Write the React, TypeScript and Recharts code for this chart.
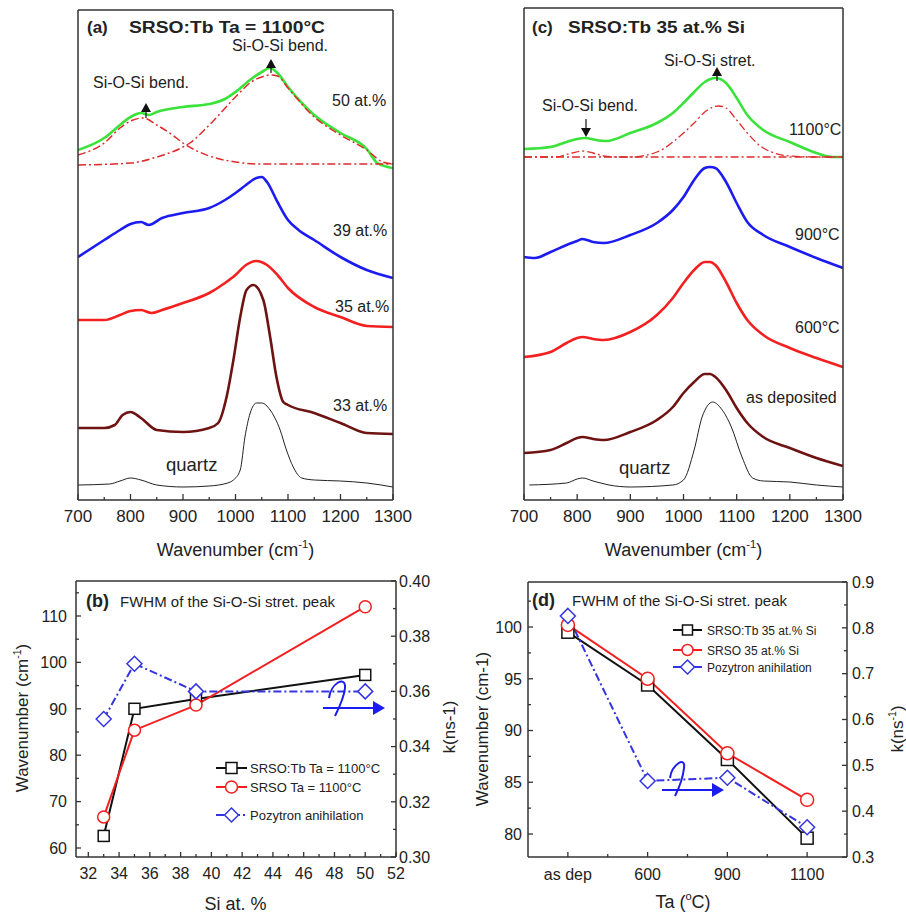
import React from 'react';
import { LineChart, Line, XAxis, YAxis } from 'recharts';

const FONT = '"Liberation Sans", Arial, Helvetica, sans-serif';
const AXIS = '#333';

// ---------- Panel (a): FTIR spectra, SRSO:Tb Ta = 1100°C (absorbance, a.u., offset) ----------
const A_QUARTZ = [[700,0.15],[760,0.16],[780,0.19],[800,0.22],[820,0.20],[850,0.15],[900,0.13],[950,0.14],[985,0.17],[996,0.20],[1009,0.30],[1018,0.63],[1028,0.87],[1040,0.97],[1050,0.97],[1066,0.90],[1085,0.70],[1097,0.50],[1110,0.33],[1126,0.22],[1150,0.20],[1200,0.19],[1250,0.17],[1300,0.13]];
const A_33 = [[700,0.72],[750,0.72],[770,0.75],[785,0.85],[800,0.88],[820,0.82],[850,0.70],[900,0.68],[950,0.72],[967,0.77],[983,1.03],[996,1.40],[1009,1.83],[1021,2.10],[1034,2.15],[1053,2.00],[1066,1.63],[1078,1.23],[1091,0.98],[1100,0.95],[1150,0.87],[1200,0.77],[1250,0.67],[1300,0.66]];
const A_35 = [[700,1.80],[750,1.80],[780,1.85],[800,1.89],[820,1.90],[840,1.87],[860,1.90],[900,1.97],[950,2.07],[980,2.17],[1000,2.25],[1020,2.35],[1040,2.39],[1060,2.35],[1080,2.25],[1100,2.12],[1150,1.93],[1200,1.83],[1250,1.74],[1300,1.73]];
const A_39 = [[700,2.43],[750,2.60],[780,2.70],[800,2.76],[820,2.78],[835,2.75],[860,2.82],[900,2.87],[950,2.92],[980,3.00],[1000,3.07],[1020,3.15],[1040,3.22],[1050,3.23],[1060,3.18],[1080,2.98],[1100,2.80],[1120,2.70],[1150,2.60],[1200,2.43],[1250,2.30],[1300,2.22]];
const A_50 = [[700,3.50],[750,3.62],[780,3.75],[800,3.83],[820,3.87],[835,3.85],[850,3.88],[900,3.93],[950,3.96],[980,4.01],[1000,4.08],[1030,4.21],[1050,4.28],[1065,4.32],[1080,4.27],[1100,4.13],[1130,3.95],[1150,3.85],[1200,3.67],[1250,3.51],[1270,3.37],[1290,3.33],[1300,3.32]];
const A_FIT_BEND = [[700,3.45],[750,3.57],[780,3.72],[800,3.79],[824,3.82],[850,3.75],[880,3.65],[900,3.57],[950,3.44],[1000,3.38],[1050,3.36],[1100,3.36],[1200,3.36],[1300,3.36]];
const A_FIT_STRET = [[700,3.35],[800,3.37],[850,3.43],[900,3.53],[913,3.57],[950,3.75],[1000,4.03],[1030,4.18],[1050,4.23],[1065,4.25],[1080,4.24],[1100,4.12],[1150,3.83],[1200,3.65],[1250,3.50],[1280,3.38],[1300,3.36]];

// ---------- Panel (c): FTIR spectra, SRSO:Tb 35 at.% Si ----------
const C_QUARTZ = [[710,0.15],[780,0.17],[800,0.21],[810,0.22],[830,0.19],[860,0.15],[900,0.13],[980,0.15],[1000,0.20],[1020,0.50],[1035,0.83],[1055,0.98],[1070,0.92],[1090,0.73],[1110,0.43],[1130,0.22],[1150,0.19],[1200,0.18],[1250,0.15],[1300,0.13]];
const C_ASDEP = [[700,0.47],[750,0.50],[780,0.57],[800,0.62],[810,0.63],[830,0.61],[850,0.60],[900,0.68],[950,0.80],[980,0.93],[1000,1.07],[1020,1.18],[1040,1.26],[1050,1.26],[1060,1.23],[1080,1.10],[1100,0.92],[1120,0.77],[1150,0.63],[1200,0.52],[1250,0.42],[1300,0.34]];
const C_600 = [[700,1.43],[750,1.48],[780,1.57],[800,1.62],[810,1.63],[830,1.61],[850,1.60],[900,1.68],[950,1.85],[980,2.02],[1000,2.17],[1020,2.30],[1040,2.38],[1050,2.38],[1060,2.35],[1080,2.18],[1100,1.97],[1120,1.80],[1150,1.65],[1200,1.52],[1250,1.42],[1300,1.33]];
const C_900 = [[700,2.43],[720,2.42],[750,2.48],[780,2.55],[800,2.59],[810,2.61],[830,2.58],[850,2.57],[900,2.65],[950,2.77],[980,2.90],[1000,3.03],[1020,3.20],[1040,3.32],[1050,3.33],[1060,3.32],[1080,3.18],[1100,2.97],[1120,2.78],[1150,2.65],[1200,2.53],[1250,2.42],[1300,2.32]];
const C_1100 = [[700,3.51],[750,3.53],[780,3.58],[800,3.61],[815,3.62],[835,3.60],[855,3.59],[900,3.67],[950,3.77],[980,3.87],[1000,3.97],[1020,4.08],[1040,4.18],[1060,4.22],[1080,4.17],[1100,4.02],[1120,3.85],[1150,3.70],[1200,3.58],[1250,3.47],[1280,3.43],[1300,3.43]];
const C_FIT_BEND = [[700,3.43],[760,3.43],[790,3.47],[810,3.49],[830,3.47],[850,3.44],[880,3.43],[1300,3.43]];
const C_FIT_STRET = [[700,3.43],[900,3.43],[950,3.48],[1000,3.67],[1020,3.77],[1040,3.88],[1065,3.94],[1080,3.92],[1100,3.80],[1120,3.67],[1150,3.52],[1200,3.44],[1250,3.43],[1300,3.43]];

const WN_TICKS = [700,750,800,850,900,950,1000,1050,1100,1150,1200,1250,1300];
const WN_MAJOR = [700,800,900,1000,1100,1200,1300];

// ---------- Panel (b): FWHM vs Si at.% ----------
const B_SI = [33, 35, 39, 50];
const B_SRSO_TB = [62.6, 90.0, 92.1, 97.3];
const B_SRSO = [66.7, 85.4, 90.8, 112.0];
const B_POS = [0.350, 0.370, 0.360, 0.360];
const B_X_TICKS = [32,33,34,35,36,37,38,39,40,41,42,43,44,45,46,47,48,49,50,51,52];
const B_X_MAJOR = [32,34,36,38,40,42,44,46,48,50,52];
const B_L_TICKS = [60,65,70,75,80,85,90,95,100,105,110,115];
const B_L_MAJOR = [60,70,80,90,100,110];
const B_R_TICKS = [0.30,0.31,0.32,0.33,0.34,0.35,0.36,0.37,0.38,0.39,0.40];
const B_R_MAJOR = [0.30,0.32,0.34,0.36,0.38,0.40];

// ---------- Panel (d): FWHM vs Ta ----------
const D_TA = ['as dep', '600', '900', '1100'];
const D_SRSO_TB = [99.5, 94.4, 87.2, 79.6];
const D_SRSO = [100.2, 95.0, 87.8, 83.3];
const D_POS = [0.826, 0.466, 0.473, 0.365];
const D_X_TICKS = [0, 0.5, 1, 1.5, 2, 2.5, 3];
const D_X_MAJOR = [0, 1, 2, 3];
const D_L_TICKS = [80, 82.5, 85, 87.5, 90, 92.5, 95, 97.5, 100, 102.5];
const D_L_MAJOR = [80, 85, 90, 95, 100];
const D_R_TICKS = [0.3,0.35,0.4,0.45,0.5,0.55,0.6,0.65,0.7,0.75,0.8,0.85,0.9];
const D_R_MAJOR = [0.3,0.4,0.5,0.6,0.7,0.8,0.9];

const pts = (arr: number[][]) => arr.map(([x, y]) => ({ x, y }));

const bData = B_SI.map((s, i) => ({ x: s, tb: B_SRSO_TB[i], srso: B_SRSO[i], pos: B_POS[i] }));
const dData = D_TA.map((t, i) => ({ x: i, label: t, tb: D_SRSO_TB[i], srso: D_SRSO[i], pos: D_POS[i] }));

const isIn = (list: number[], v: number) => list.some((m) => Math.abs(m - v) < 1e-6);

function mkTick(orient: 'bottom' | 'left' | 'right', majors: number[], fmt: (v: number) => string, fs: number, off: number, majLen = 6, minLen = 3) {
  return (p: any) => {
    const v = p.payload.value;
    const maj = isIn(majors, v);
    const len = maj ? majLen : minLen;
    const x = p.x, y = p.y;
    if (orient === 'bottom') {
      return (
        <g>
          <line x1={x} y1={y} x2={x} y2={y - len} stroke={AXIS} strokeWidth={1.3} />
          {maj && <text x={x} y={y + off} textAnchor="middle" fontSize={fs} fontFamily={FONT} fill="#222">{fmt(v)}</text>}
        </g>
      );
    }
    if (orient === 'left') {
      return (
        <g>
          <line x1={x} y1={y} x2={x + len} y2={y} stroke={AXIS} strokeWidth={1.3} />
          {maj && <text x={x - off} y={y} dy="0.36em" textAnchor="end" fontSize={fs} fontFamily={FONT} fill="#222">{fmt(v)}</text>}
        </g>
      );
    }
    return (
      <g>
        <line x1={x} y1={y} x2={x - len} y2={y} stroke={AXIS} strokeWidth={1.3} />
        {maj && <text x={x + off} y={y} dy="0.36em" textAnchor="start" fontSize={fs} fontFamily={FONT} fill="#222">{fmt(v)}</text>}
      </g>
    );
  };
}

const squareDot = (color: string, size: number) => (p: any) => (
  <rect key={`s${p.index}`} x={p.cx - size / 2} y={p.cy - size / 2} width={size} height={size} fill="#fff" stroke={color} strokeWidth={1.5} />
);
const diamondDot = (color: string, r: number) => (p: any) => (
  <polygon key={`d${p.index}`} points={`${p.cx},${p.cy - r} ${p.cx + r},${p.cy} ${p.cx},${p.cy + r} ${p.cx - r},${p.cy}`} fill="#fff" stroke={color} strokeWidth={1.5} />
);

const GREEN = '#3ae23a';
const BLUE = '#1c1cf0';
const RED = '#f22020';
const DARKRED = '#6e1212';
const FIT = '#e02a2a';
const MBLUE = '#3434e0';

type Spec = { data: number[][]; color: string; width: number; dash?: string };

function SpectraChart({ left, width, margin, top, lw, rw, yMax, series }: { left: number; width: number; margin: any; top: number; lw: number; rw: number; yMax: number; series: Spec[] }) {
  const axisLine = { stroke: AXIS, strokeWidth: 1.5 };
  return (
    <div style={{ position: 'absolute', left, top: 0 }}>
      <LineChart width={width} height={560} margin={margin}>
        <XAxis xAxisId="b" type="number" dataKey="x" domain={[700, 1300]} allowDataOverflow ticks={WN_TICKS} interval={0}
          height={30} tickSize={0} tickMargin={0} tickLine={false} axisLine={axisLine}
          tick={mkTick('bottom', WN_MAJOR, (v) => String(v), 17, 22, 6, 3)} />
        <XAxis xAxisId="t" orientation="top" type="number" domain={[700, 1300]} height={top} tick={false} tickLine={false} axisLine={axisLine} />
        <YAxis yAxisId="l" type="number" domain={[0, yMax]} allowDataOverflow width={lw} tick={false} tickLine={false} axisLine={axisLine} />
        <YAxis yAxisId="r" orientation="right" type="number" domain={[0, yMax]} width={rw} tick={false} tickLine={false} axisLine={axisLine} />
        {series.map((s, i) => (
          <Line key={i} xAxisId="b" yAxisId="l" data={pts(s.data)} dataKey="y" type="monotone" stroke={s.color}
            strokeWidth={s.width} strokeDasharray={s.dash} dot={false} activeDot={false} isAnimationActive={false} />
        ))}
      </LineChart>
    </div>
  );
}

function SupText({ x, y, fs, base, sup, tail, anchor = 'middle', rotate = false, weight = 'normal' }: any) {
  const transform = rotate ? `translate(${x},${y}) rotate(-90)` : undefined;
  return (
    <text x={rotate ? 0 : x} y={rotate ? 0 : y} transform={transform} textAnchor={anchor} fontSize={fs} fontFamily={FONT} fill="#222" fontWeight={weight}>
      {base}
      <tspan dy={-fs * 0.42} fontSize={fs * 0.62}>{sup}</tspan>
      <tspan dy={fs * 0.42}>{tail}</tspan>
    </text>
  );
}

function UpArrow({ cx, tip, stem }: { cx: number; tip: number; stem: number }) {
  return (
    <g>
      <line x1={cx} y1={tip + 8} x2={cx} y2={tip + 8 + stem} stroke="#111" strokeWidth={1.2} />
      <polygon points={`${cx},${tip} ${cx - 5},${tip + 9} ${cx + 5},${tip + 9}`} fill="#111" />
    </g>
  );
}

function Overlay() {
  const T = (x: number, y: number, s: string, fs = 16, extra: any = {}) => (
    <text x={x} y={y} fontSize={fs} fontFamily={FONT} fill="#222" {...extra}>{s}</text>
  );
  return (
    <svg width={906} height={917} style={{ position: 'absolute', left: 0, top: 0, pointerEvents: 'none' }}>
      {/* Panel (a) */}
      {T(87, 33, '(a)', 17, { fontWeight: 'bold' })}
      {T(129, 33, 'SRSO:Tb Ta = 1100°C', 16, { fontWeight: 'bold', textLength: 196, lengthAdjust: 'spacingAndGlyphs' })}
      {T(232, 51, 'Si-O-Si bend.')}
      {T(93, 88, 'Si-O-Si bend.')}
      <UpArrow cx={146} tip={103} stem={7} />
      <UpArrow cx={271} tip={59} stem={6} />
      {T(332, 106, '50 at.%')}
      {T(333, 236, '39 at.%')}
      {T(335, 312, '35 at.%')}
      {T(333, 411, '33 at.%')}
      {T(166, 471, 'quartz', 18.5)}
      <SupText x={235.5} y={556} fs={18} base="Wavenumber (cm" sup="-1" tail=")" />

      {/* Panel (c) */}
      {T(532, 33, '(c)', 17, { fontWeight: 'bold' })}
      {T(568, 33, 'SRSO:Tb 35 at.% Si', 16, { fontWeight: 'bold', textLength: 177, lengthAdjust: 'spacingAndGlyphs' })}
      {T(664, 66, 'Si-O-Si stret.')}
      <UpArrow cx={717} tip={67} stem={6} />
      {T(542, 111, 'Si-O-Si bend.')}
      <line x1={586} y1={119} x2={586} y2={129} stroke="#111" strokeWidth={1.2} />
      <polygon points="581,128 591,128 586,137" fill="#111" />
      {T(789, 135, '1100°C')}
      {T(795, 240, '900°C')}
      {T(795, 333, '600°C')}
      {T(746, 403, 'as deposited')}
      {T(619, 474, 'quartz', 18.5)}
      <SupText x={683.5} y={556} fs={18} base="Wavenumber (cm" sup="-1" tail=")" />

      {/* Panel (b) */}
      {T(86, 607, '(b)', 18, { fontWeight: 'bold' })}
      {T(120, 607, 'FWHM of the Si-O-Si stret. peak', 15)}
      <SupText x={28} y={718} fs={17} base="Wavenumber (cm" sup="-1" tail=")" rotate />
      <text transform="translate(455,727) rotate(-90)" textAnchor="middle" fontSize={17} fontFamily={FONT} fill="#222">k(ns-1)</text>
      {T(235.5, 910, 'Si at. %', 18, { textAnchor: 'middle' })}
      {/* legend (b) */}
      <line x1={216} y1={768} x2={247} y2={768} stroke="#111" strokeWidth={2} />
      <rect x={226} y={762.5} width={11} height={11} fill="#fff" stroke="#111" strokeWidth={1.5} />
      {T(250, 772.5, 'SRSO:Tb Ta = 1100°C', 13)}
      <line x1={216} y1={787} x2={247} y2={787} stroke={RED} strokeWidth={2} />
      <circle cx={231.5} cy={787} r={6} fill="#fff" stroke={RED} strokeWidth={1.5} />
      {T(250, 791.5, 'SRSO Ta = 1100°C', 13)}
      <line x1={216} y1={815} x2={247} y2={815} stroke={MBLUE} strokeWidth={2} strokeDasharray="8 3 2 3" />
      <polygon points="231.5,808 238.5,815 231.5,822 224.5,815" fill="#fff" stroke={MBLUE} strokeWidth={1.5} />
      {T(250, 820, 'Pozytron anihilation', 13)}
      {/* axis-pointer (b) */}
      <path d="M 329 698 C 331 683, 346 675, 345 688 C 344 698, 339 708, 335 716" fill="none" stroke={BLUE} strokeWidth={2} />
      <line x1={323} y1={708} x2={374} y2={708} stroke={BLUE} strokeWidth={2.2} />
      <polygon points="373,701 385,708 373,715" fill={BLUE} />

      {/* Panel (d) */}
      {T(532, 606, '(d)', 18, { fontWeight: 'bold' })}
      {T(572, 606, 'FWHM of the Si-O-Si stret. peak', 15)}
      <text transform="translate(488,729) rotate(-90)" textAnchor="middle" fontSize={17} fontFamily={FONT} fill="#222">Wavenumber (cm-1)</text>
      <SupText x={903} y={729} fs={17} base="k(ns" sup="-1" tail=")" rotate />
      <SupText x={683} y={908} fs={18} base="Ta (" sup="o" tail="C)" />
      {/* legend (d) */}
      <line x1={673} y1={630} x2={702} y2={630} stroke="#111" strokeWidth={2} />
      <rect x={682.5} y={625} width={10} height={10} fill="#fff" stroke="#111" strokeWidth={1.5} />
      {T(707, 634.5, 'SRSO:Tb 35 at.% Si', 12)}
      <line x1={673} y1={650} x2={702} y2={650} stroke={RED} strokeWidth={2} />
      <circle cx={687.5} cy={650} r={5.5} fill="#fff" stroke={RED} strokeWidth={1.5} />
      {T(707, 654.5, 'SRSO 35 at.% Si', 12)}
      <line x1={673} y1={667} x2={702} y2={667} stroke={MBLUE} strokeWidth={2} />
      <polygon points="687.5,660 694.5,667 687.5,674 680.5,667" fill="#fff" stroke={MBLUE} strokeWidth={1.5} />
      {T(707, 671.5, 'Pozytron anihilation', 12)}
      {/* axis-pointer (d) */}
      <path d="M 670 778 C 672 764, 686 756, 684 768 C 683 778, 679 788, 675 796" fill="none" stroke={BLUE} strokeWidth={2} />
      <line x1={662} y1={790} x2={713} y2={790} stroke={BLUE} strokeWidth={2.2} />
      <polygon points="712,783 724,790 712,797" fill={BLUE} />
    </svg>
  );
}

export default function App() {
  const axisLine = { stroke: AXIS, strokeWidth: 1.5 };
  const dashDot = '8 3 2 3';
  return (
    <div style={{ position: 'absolute', left: 0, top: 0, width: 906, height: 917, background: '#fff', overflow: 'hidden' }}>
      <SpectraChart left={0} width={460} yMax={4.9} top={10} lw={10} rw={10} margin={{ top: 0, left: 68, right: 57, bottom: 30 }}
        series={[
          { data: A_QUARTZ, color: '#222', width: 1 },
          { data: A_33, color: DARKRED, width: 2.6 },
          { data: A_35, color: RED, width: 2.6 },
          { data: A_39, color: BLUE, width: 2.6 },
          { data: A_50, color: GREEN, width: 2.6 },
          { data: A_FIT_BEND, color: FIT, width: 1.5, dash: dashDot },
          { data: A_FIT_STRET, color: FIT, width: 1.5, dash: dashDot },
        ]} />
      <SpectraChart left={460} width={446} yMax={4.92} top={8} lw={10} rw={10} margin={{ top: 0, left: 54, right: 53, bottom: 30 }}
        series={[
          { data: C_QUARTZ, color: '#222', width: 1 },
          { data: C_ASDEP, color: DARKRED, width: 2.6 },
          { data: C_600, color: RED, width: 2.6 },
          { data: C_900, color: BLUE, width: 2.6 },
          { data: C_1100, color: GREEN, width: 2.6 },
          { data: C_FIT_BEND, color: FIT, width: 1.3, dash: dashDot },
          { data: C_FIT_STRET, color: FIT, width: 1.3, dash: dashDot },
        ]} />

      {/* Panel (b) */}
      <div style={{ position: 'absolute', left: 0, top: 560 }}>
        <LineChart width={460} height={357} data={bData} margin={{ top: 11, left: 36, right: 24, bottom: 30 }}>
          <XAxis xAxisId="b" type="number" dataKey="x" domain={[31.2, 52]} allowDataOverflow ticks={B_X_TICKS} interval={0}
            height={30} tickSize={0} tickMargin={0} tickLine={false} axisLine={axisLine}
            tick={mkTick('bottom', B_X_MAJOR, (v) => String(v), 16, 22, 5, 3)} />
          <XAxis xAxisId="t" orientation="top" type="number" domain={[31.2, 52]} height={10} tick={false} tickLine={false} axisLine={axisLine} />
          <YAxis yAxisId="l" type="number" domain={[58.06, 117.54]} allowDataOverflow ticks={B_L_TICKS} interval={0}
            width={40} tickSize={0} tickMargin={0} tickLine={false} axisLine={axisLine}
            tick={mkTick('left', B_L_MAJOR, (v) => String(v), 16, 9, 5, 3)} />
          <YAxis yAxisId="r" orientation="right" type="number" domain={[0.30, 0.40]} allowDataOverflow ticks={B_R_TICKS} interval={0}
            width={40} tickSize={0} tickMargin={0} tickLine={false} axisLine={axisLine}
            tick={mkTick('right', B_R_MAJOR, (v) => v.toFixed(2), 16, 3, 5, 3)} />
          <Line xAxisId="b" yAxisId="l" dataKey="tb" type="linear" stroke="#111" strokeWidth={2} dot={squareDot('#111', 11)} activeDot={false} isAnimationActive={false} />
          <Line xAxisId="b" yAxisId="l" dataKey="srso" type="linear" stroke={RED} strokeWidth={2} dot={{ r: 6, fill: '#fff', stroke: RED, strokeWidth: 1.5 }} activeDot={false} isAnimationActive={false} />
          <Line xAxisId="b" yAxisId="r" dataKey="pos" type="linear" stroke={MBLUE} strokeWidth={2} strokeDasharray={dashDot} dot={diamondDot(MBLUE, 7.5)} activeDot={false} isAnimationActive={false} />
        </LineChart>
      </div>

      {/* Panel (d) */}
      <div style={{ position: 'absolute', left: 460, top: 560 }}>
        <LineChart width={446} height={357} data={dData} margin={{ top: 12, left: 28, right: 19, bottom: 30 }}>
          <XAxis xAxisId="b" type="number" dataKey="x" domain={[-0.5, 3.5]} allowDataOverflow ticks={D_X_TICKS} interval={0}
            height={30} tickSize={0} tickMargin={0} tickLine={false} axisLine={axisLine}
            tick={mkTick('bottom', D_X_MAJOR, (v) => D_TA[Math.round(v)], 16, 23, 5, 3)} />
          <XAxis xAxisId="t" orientation="top" type="number" domain={[-0.5, 3.5]} height={10} tick={false} tickLine={false} axisLine={axisLine} />
          <YAxis yAxisId="l" type="number" domain={[77.78, 104.35]} allowDataOverflow ticks={D_L_TICKS} interval={0}
            width={40} tickSize={0} tickMargin={0} tickLine={false} axisLine={axisLine}
            tick={mkTick('left', D_L_MAJOR, (v) => String(v), 16, 6, 5, 3)} />
          <YAxis yAxisId="r" orientation="right" type="number" domain={[0.3, 0.9]} allowDataOverflow ticks={D_R_TICKS} interval={0}
            width={40} tickSize={0} tickMargin={0} tickLine={false} axisLine={axisLine}
            tick={mkTick('right', D_R_MAJOR, (v) => v.toFixed(1), 16, 5, 5, 3)} />
          <Line xAxisId="b" yAxisId="l" dataKey="tb" type="linear" stroke="#111" strokeWidth={2} dot={squareDot('#111', 12)} activeDot={false} isAnimationActive={false} />
          <Line xAxisId="b" yAxisId="l" dataKey="srso" type="linear" stroke={RED} strokeWidth={2} dot={{ r: 6.5, fill: '#fff', stroke: RED, strokeWidth: 1.5 }} activeDot={false} isAnimationActive={false} />
          <Line xAxisId="b" yAxisId="r" dataKey="pos" type="linear" stroke={MBLUE} strokeWidth={2} strokeDasharray={dashDot} dot={diamondDot(MBLUE, 7.5)} activeDot={false} isAnimationActive={false} />
        </LineChart>
      </div>

      <Overlay />
    </div>
  );
}
